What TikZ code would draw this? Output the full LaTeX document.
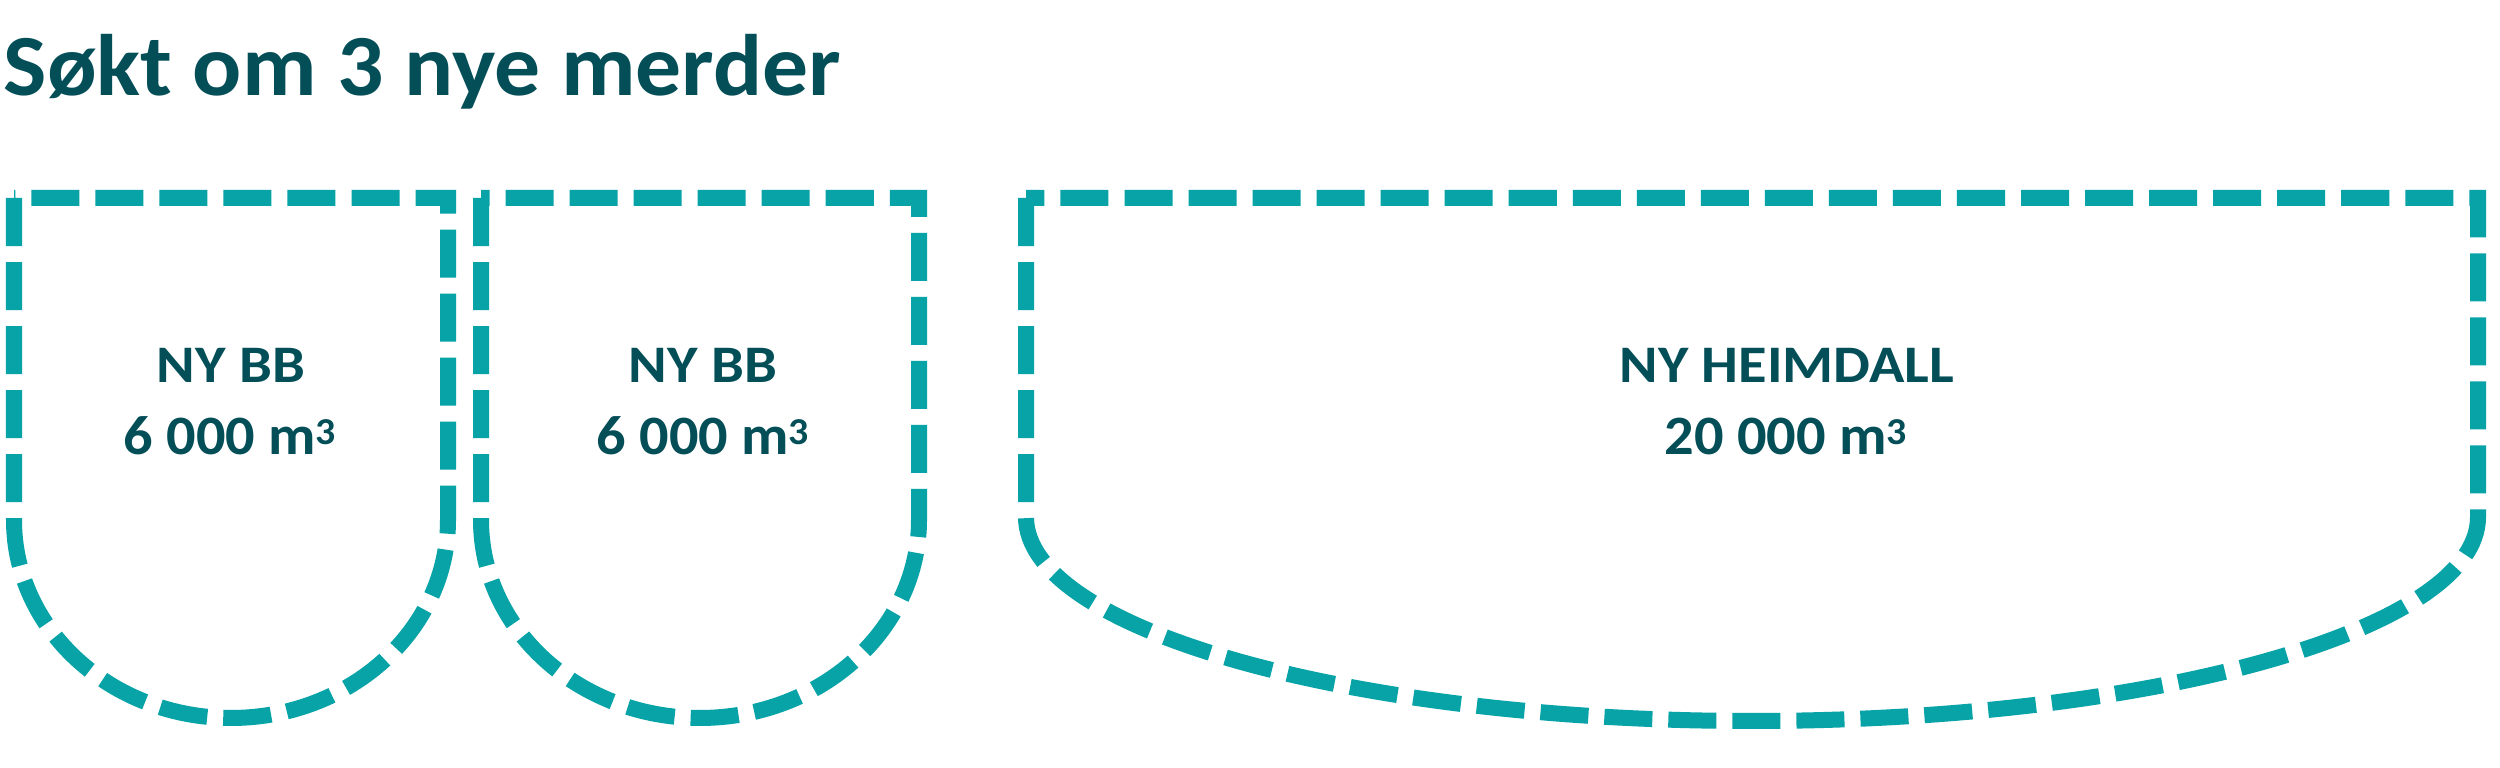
\documentclass[tikz,border=0pt]{standalone}
\usepackage{fontspec}
\usepackage{graphicx}
\setmainfont{Carlito}
\definecolor{textc}{RGB}{4,78,88}
\definecolor{linec}{RGB}{7,163,167}
\newcommand{\cubm}{m\raisebox{3.0pt}{\fontsize{10.8pt}{12pt}\selectfont 3}}
\newcommand{\wbox}[2]{\resizebox{#1}{\height}{#2}}
\begin{document}
\begin{tikzpicture}[x=0.01cm,y=0.01cm,
  pen/.style={draw=linec,line width=0.16cm,dash pattern=on 0.48cm off 0.16cm,line join=miter},
  lbl/.style={text=textc,font=\bfseries\fontsize{15pt}{18pt}\selectfont,anchor=base,inner sep=0pt},
  ttl/.style={text=textc,font=\bfseries\fontsize{24.8pt}{30pt}\selectfont,anchor=base west,inner sep=0pt}]
\useasboundingbox (0,0) rectangle (2500,768);
% title
\node[ttl] (title) at (3,672) {\wbox{8.37cm}{Søkt om 3 nye merder}};
% shape 1
\draw[pen] (14,570) -- (14,248) arc[start angle=180,end angle=360,x radius=217,y radius=198] -- (448,570) -- cycle;
% shape 2
\draw[pen] (481,570) -- (481,248) arc[start angle=180,end angle=360,x radius=219,y radius=198] -- (919,570) -- cycle;
% shape 3
\draw[pen] (1026,570) -- (1026,251) arc[start angle=180,end angle=360,x radius=726,y radius=204] -- (2478,570) -- cycle;
% labels
\node[lbl] (a1) at (231,385) {\wbox{1.48cm}{NY BB}};
\node[lbl,font=\bfseries\fontsize{15.8pt}{18pt}\selectfont] (a2) at (230,313) {\wbox{2.12cm}{6 000 \cubm}};
\node[lbl] (b1) at (703,385) {\wbox{1.48cm}{NY BB}};
\node[lbl,font=\bfseries\fontsize{15.8pt}{18pt}\selectfont] (b2) at (703,313) {\wbox{2.12cm}{6 000 \cubm}};
\node[lbl] (c1) at (1787,385) {\wbox{3.34cm}{NY HEIMDALL}};
\node[lbl,font=\bfseries\fontsize{15.8pt}{18pt}\selectfont] (c2) at (1786,313) {\wbox{2.42cm}{20 000 \cubm}};
\end{tikzpicture}
\end{document}
